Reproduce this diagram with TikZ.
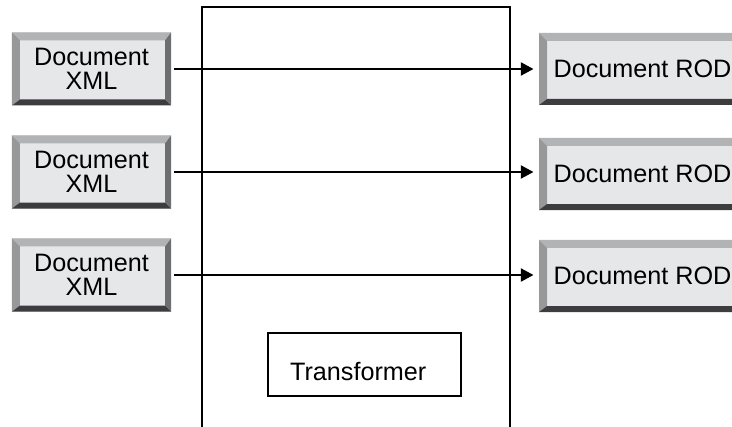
\documentclass[tikz,border=0pt]{standalone}
\usepackage{fontspec}
\setmainfont{Liberation Sans}
\usetikzlibrary{arrows.meta,calc}
\definecolor{bevface}{HTML}{E6E7E8}
\definecolor{bevtop}{HTML}{B2B3B5}
\definecolor{bevleft}{HTML}{97989A}
\definecolor{bevbot}{HTML}{3D3D3F}
\definecolor{bevright}{HTML}{6D6E70}
\begin{document}
\begin{tikzpicture}[x=0.03cm, y=-0.03cm, >={Triangle[length=0.38cm,width=0.38cm]},
  line width=0.085cm,
  every node/.style={font=\fontsize{21.5pt}{20.5pt}\selectfont},
  bevelbox/.style={fill=bevface, inner sep=0pt, align=center, path picture={
    \fill[bevtop] (path picture bounding box.north west) -- (path picture bounding box.north east)
      -- ($(path picture bounding box.north east)+(-6,8)$) -- ($(path picture bounding box.north west)+(8,8)$) -- cycle;
    \fill[bevleft] (path picture bounding box.north west) -- ($(path picture bounding box.north west)+(8,8)$)
      -- ($(path picture bounding box.south west)+(8,-6)$) -- (path picture bounding box.south west) -- cycle;
    \fill[bevbot] (path picture bounding box.south west) -- ($(path picture bounding box.south west)+(8,-6)$)
      -- ($(path picture bounding box.south east)+(-6,-6)$) -- (path picture bounding box.south east) -- cycle;
    \fill[bevright] (path picture bounding box.north east) -- (path picture bounding box.south east)
      -- ($(path picture bounding box.south east)+(-6,-6)$) -- ($(path picture bounding box.north east)+(-6,8)$) -- cycle;
  }},
  xmlbox/.style={bevelbox, minimum width=4.77cm, minimum height=2.19cm},
  rodbox/.style={bevelbox, minimum width=6.21cm, minimum height=2.16cm},
  plainbox/.style={draw, minimum width=5.79cm, minimum height=1.89cm, text height=0.93cm, text depth=0pt}]
\useasboundingbox (0,0) rectangle (732,427);
\clip (0,0) rectangle (732,427);
% container, open at the bottom
\draw (202,440) -- (202,7) -- (510,7) -- (510,440);
\node[xmlbox] (x1) at (91.5,69) {Document\\XML};
\node[xmlbox] (x2) at (91.5,172) {Document\\XML};
\node[xmlbox] (x3) at (91.5,275) {Document\\XML};
\node[rodbox] (r1) at (642.5,69) {Document ROD};
\node[rodbox] (r2) at (642.5,174) {Document ROD};
\node[rodbox] (r3) at (642.5,276) {Document ROD};
\node[plainbox] (trans) at (364.5,364.5) {\hspace*{-0.38cm}Transformer};
\draw[->, shorten <=0.06cm, shorten >=0.12cm] (x1.east) -- (x1.east -| r1.west);
\draw[->, shorten <=0.06cm, shorten >=0.12cm] (x2.east) -- (x2.east -| r2.west);
\draw[->, shorten <=0.06cm, shorten >=0.12cm] (x3.east) -- (x3.east -| r3.west);
\end{tikzpicture}
\end{document}
